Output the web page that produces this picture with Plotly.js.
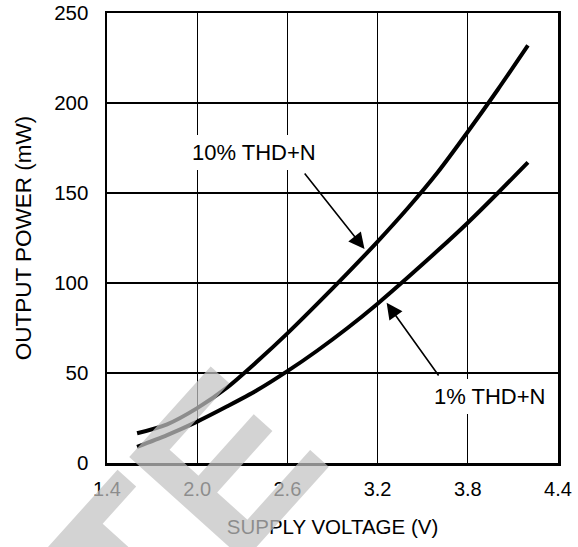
<!DOCTYPE html>
<html>
<head>
<meta charset="utf-8">
<script src="https://cdn.plot.ly/plotly-3.0.1.min.js"></script>
<style>html,body{margin:0;padding:0;background:#fff;}#chart{width:578px;height:547px;}</style>
</head>
<body>
<div id="chart"></div>
<script>
// Supply voltage (V)
const supplyVoltage = [1.6, 1.8, 2.0, 2.2, 2.4, 2.6, 2.8, 3.0, 3.2, 3.4, 3.6, 3.8, 4.0, 4.2];
// Output power (mW) at 10% THD+N
const power10 = [16.5, 21.5, 30.5, 42, 56.5, 72, 88.5, 105.5, 123, 141.5, 161.5, 184, 207.5, 232];
// Output power (mW) at 1% THD+N
const power1 = [9, 15.5, 23, 31.5, 40.5, 51, 62.5, 75, 88.5, 103, 118, 133.5, 150, 167];
const xTicks = [1.4, 2.0, 2.6, 3.2, 3.8, 4.4];
const yTicks = [0, 50, 100, 150, 200, 250];
const labels = ['10% THD+N', '1% THD+N'];

const font = 'Liberation Sans, Arial, sans-serif';
const lineStyle = {color: '#000', width: 4, shape: 'spline', smoothing: 0.8};

const traces = [
  {x: supplyVoltage, y: power10, mode: 'lines', line: lineStyle, name: labels[0], hoverinfo: 'skip'},
  {x: supplyVoltage, y: power1, mode: 'lines', line: lineStyle, name: labels[1], hoverinfo: 'skip'}
];

const layout = {
  width: 578, height: 547,
  margin: {l: 107, r: 20, t: 13, b: 84},
  paper_bgcolor: '#fff', plot_bgcolor: '#fff',
  showlegend: false,
  font: {family: font, size: 20, color: '#000'},
  xaxis: {
    range: [1.4, 4.4], tickvals: xTicks, ticktext: xTicks.map(v => v.toFixed(1)),
    showgrid: true, gridcolor: '#000', gridwidth: 1.3,
    showline: true, linecolor: '#000', linewidth: 2.5, mirror: true,
    ticks: '', zeroline: false, ticklabelstandoff: 6,
    tickfont: {size: 20},
    title: {text: 'SUPPLY VOLTAGE (V)', font: {size: 20.5}, standoff: 21}
  },
  yaxis: {
    range: [0, 250], tickvals: yTicks,
    showgrid: true, gridcolor: '#000', gridwidth: 1.3,
    showline: true, linecolor: '#000', linewidth: 2.5, mirror: true,
    ticks: '', zeroline: false, ticklabelstandoff: 12,
    tickfont: {size: 20.5},
    title: {text: 'OUTPUT POWER (mW)', font: {size: 22.5}, standoff: 17}
  },
  annotations: [
    {x: 2.377, y: 172.5, xref: 'x', yref: 'y', text: labels[0], showarrow: false,
     font: {size: 22}, bgcolor: '#fff', borderpad: 5, borderwidth: 0},
    {x: 3.947, y: 37.2, xref: 'x', yref: 'y', text: labels[1], showarrow: false,
     font: {size: 22}, bgcolor: '#fff', borderpad: 5, borderwidth: 0},
    {x: 3.113, y: 118.9, ax: 2.707, ay: 161.7, xref: 'x', yref: 'y', axref: 'x', ayref: 'y',
     text: '', showarrow: true, arrowhead: 2, arrowsize: 2, arrowwidth: 1.6, arrowcolor: '#000'},
    {x: 3.26, y: 89, ax: 3.613, ay: 47.8, xref: 'x', yref: 'y', axref: 'x', ayref: 'y',
     text: '', showarrow: true, arrowhead: 2, arrowsize: 2, arrowwidth: 1.6, arrowcolor: '#000'},
    // watermark
    {x: -0.542, y: -0.9, xref: 'paper', yref: 'paper', xanchor: 'center', yanchor: 'middle',
     text: '<b>OBSOLETE</b>', showarrow: false, textangle: -48, opacity: 0.72,
     font: {family: font, size: 225, color: 'rgb(195,195,195)'}}
  ]
};

Plotly.newPlot('chart', traces, layout, {staticPlot: true, displayModeBar: false});
</script>
</body>
</html>
